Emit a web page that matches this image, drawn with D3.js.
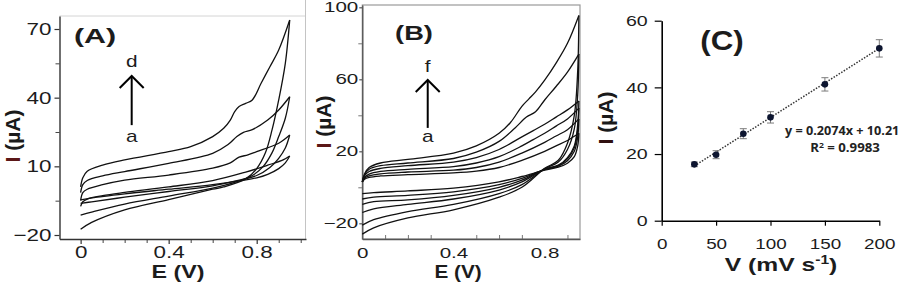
<!DOCTYPE html>
<html>
<head>
<meta charset="utf-8">
<script src="https://cdn.jsdelivr.net/npm/d3@7"></script>
<style>
  body { margin: 0; background: #fff; }
  svg { display: block; font-family: "Liberation Sans", Arial, sans-serif; }
</style>
</head>
<body>
<svg id="fig" width="899" height="283"></svg>
<script>
// ---- panel A : 4 voltammograms (a..d), [E (V), I (uA)] ----
const aFwd_a = [[0,-7.5],[0.01,-5.5],[0.03,-4.3],[0.1,-2.8],[0.2,-1.4],[0.4,1],[0.6,3.8],[0.75,7.5],[0.85,10.5],[0.92,12.8],[0.95,14.5]];
const aRev_a = [[0.95,14.5],[0.93,11.5],[0.9,9],[0.85,6.5],[0.8,5],[0.6,2],[0.4,0],[0.2,-2],[0.05,-3.8],[0,-4.7]];
const aFwd_b = [[0,-5],[0.01,-1.5],[0.03,0],[0.1,2],[0.2,4],[0.4,6.2],[0.6,9.2],[0.68,11.5],[0.72,14],[0.76,15],[0.8,16.4],[0.9,20.1],[0.95,23.7]];
const aRev_b = [[0.95,23.7],[0.93,18],[0.9,13.5],[0.86,9.5],[0.8,6],[0.7,3.5],[0.6,1.5],[0.4,-1],[0.2,-3.5],[0.05,-5.5],[0,-6.2]];
const aFwd_c = [[0,-1.5],[0.01,2],[0.03,3.8],[0.1,5.8],[0.2,7.7],[0.4,11.3],[0.6,15.7],[0.67,19.5],[0.71,23],[0.74,24.8],[0.78,26],[0.85,30.2],[0.9,34.6],[0.95,40.4]];
const aRev_c = [[0.95,40.4],[0.93,31],[0.9,23],[0.87,16],[0.83,10],[0.78,6],[0.7,3],[0.6,0.5],[0.4,-3],[0.2,-6.5],[0.05,-10],[0,-11.3]];
const aFwd_d = [[0,1],[0.01,5],[0.03,7.8],[0.1,10.5],[0.2,12.8],[0.4,16.4],[0.5,18.6],[0.6,23],[0.65,26.6],[0.68,30.2],[0.7,33.9],[0.72,36.1],[0.75,37.5],[0.78,39],[0.82,46.3],[0.86,53.5],[0.9,60.8],[0.95,73.9]];
const aRev_d = [[0.95,73.9],[0.93,55],[0.9,39],[0.87,26],[0.84,16],[0.8,9],[0.75,4.5],[0.65,1],[0.6,0],[0.4,-4.5],[0.2,-9],[0.05,-14.5],[0,-17.5]];

// ---- panel B : 6 voltammograms (a..f) ----
const bFwd_a = [[0,3],[0.01,4.5],[0.03,5.5],[0.08,6.3],[0.2,7],[0.4,8],[0.5,9],[0.6,11],[0.7,15],[0.8,20],[0.85,23],[0.9,26],[0.95,30]];
const bRev_a = [[0.95,30],[0.945,23],[0.93,17],[0.9,13.4],[0.86,11.2],[0.8,9.5],[0.7,6],[0.6,3],[0.4,-0.5],[0.2,-2],[0.05,-3],[0,-3.5]];
const bFwd_b = [[0,3],[0.01,5],[0.03,6.3],[0.08,7.5],[0.2,8.5],[0.4,9.5],[0.5,11],[0.6,14],[0.7,19],[0.8,25],[0.85,28.5],[0.9,32],[0.95,38]];
const bRev_b = [[0.95,38],[0.945,28],[0.93,20],[0.9,14.8],[0.86,11.7],[0.8,9.8],[0.7,5],[0.6,1.5],[0.4,-2.5],[0.2,-4.5],[0.05,-5.5],[0,-6.5]];
const bFwd_c = [[0,3],[0.01,5.5],[0.03,7.3],[0.08,8.8],[0.2,10],[0.4,11.5],[0.5,13.5],[0.6,17],[0.7,23],[0.75,26.5],[0.8,30],[0.85,34],[0.9,38],[0.95,44]];
const bRev_c = [[0.95,44],[0.945,32],[0.93,22],[0.9,15.8],[0.86,12],[0.8,10],[0.7,4],[0.6,0],[0.4,-4.5],[0.2,-7],[0.05,-8],[0,-9.5]];
const bFwd_d = [[0,3],[0.01,6.5],[0.03,8.8],[0.08,10.5],[0.2,12],[0.4,14],[0.5,16.5],[0.6,21],[0.7,28],[0.75,31.5],[0.8,35],[0.85,39],[0.9,43],[0.95,48]];
const bRev_d = [[0.95,48],[0.945,35],[0.93,23],[0.9,16.5],[0.86,12.3],[0.8,10.1],[0.7,3],[0.6,-1.5],[0.4,-6.5],[0.2,-9.5],[0.05,-12],[0,-14]];
const bFwd_e = [[0,3],[0.01,7],[0.03,10],[0.08,12],[0.2,13.5],[0.4,16],[0.5,19.5],[0.6,25.5],[0.67,33],[0.72,39],[0.76,42],[0.8,48.5],[0.85,56],[0.9,64],[0.95,74]];
const bRev_e = [[0.95,74],[0.945,51.5],[0.93,32.5],[0.9,21],[0.86,14],[0.8,10.3],[0.7,1.5],[0.6,-3.5],[0.4,-9.5],[0.2,-13.5],[0.05,-18],[0,-21]];
const bFwd_f = [[0,3],[0.01,7.5],[0.03,11],[0.08,13.5],[0.2,15.5],[0.4,19],[0.5,23],[0.6,30],[0.65,36],[0.7,45],[0.73,49],[0.76,53],[0.8,59.5],[0.85,69],[0.9,80],[0.95,95.5]];
const bRev_f = [[0.95,95.5],[0.945,65],[0.93,40],[0.9,24.5],[0.86,15],[0.8,10.5],[0.7,0],[0.6,-5.5],[0.4,-12.5],[0.2,-17],[0.05,-22.5],[0,-26]];

// ---- panel C : peak current vs scan rate ----
const scanRate = [30, 50, 75, 100, 150, 200];
const peakI = [16.9, 19.8, 26.1, 31.0, 40.9, 51.7];
const peakErr = [0.7, 1.2, 1.5, 1.7, 2.0, 2.6];
const fitSlope = 0.2074, fitIntercept = 10.21;

// tick values
const aTicksY = [70, 40, 10, -20], aMinorY = [55, 25, -5];
const aTicksX = [0, 0.4, 0.8], cvMinorX = [0.1, 0.2, 0.3, 0.5, 0.6, 0.7, 0.9, 1.0];
const bTicksY = [100, 60, 20, -20], bMinorY = [80, 40, 0];
const bTicksX = [0, 0.4, 0.8];
const cTicksY = [0, 20, 40, 60], cTicksX = [0, 50, 100, 150, 200];

const svg = d3.select("#fig");
svg.append("rect").attr("width", 899).attr("height", 283).attr("fill", "#fff");
const INK = "#1c1c1c";

function txt(g, x, y, s, o) {
  o = o || {};
  return g.append("text").attr("transform", `translate(${x},${y}) scale(${o.sx || 1},1)`)
    .attr("text-anchor", o.anchor || "middle").attr("font-size", o.size || 14)
    .attr("font-weight", o.bold ? "bold" : null).attr("fill", o.fill || INK)
    .attr("font-family", o.font || null).text(s);
}
function ylab(g, x, y, red) {
  const t = g.append("text").attr("transform", `translate(${x},${y}) rotate(-90)`)
    .attr("text-anchor", "middle").attr("font-size", 21).attr("font-weight", "bold");
  t.append("tspan").attr("fill", red).text("I");
  t.append("tspan").attr("fill", "#1a1a1a").text(" (µA)");
}
function styleAxis(a, size, sx, stroke, dx, base) {
  a.selectAll("path.domain").attr("stroke", stroke).attr("stroke-width", 1.4);
  a.selectAll(".tick line").attr("stroke", stroke).attr("stroke-width", 1.2);
  a.selectAll(".tick text").attr("font-size", size).attr("fill", INK)
    .attr("font-family", "Liberation Sans, Arial, sans-serif")
    .each(function () {
      const t = d3.select(this);
      if (dx != null) t.attr("x", 0).attr("transform", `translate(${dx},0) scale(${sx},1)`);
      else t.attr("dy", null).attr("y", base).attr("transform", `scale(${sx},1)`);
    });
}
const fmtE = (d) => (d === 0 ? "0" : d3.format(".1f")(d));
function cvLine(x, y) {
  return d3.line().x((d) => x(d[0])).y((d) => y(d[1])).curve(d3.curveCatmullRom.alpha(0.5));
}
function arrow(g, x, y, e, i0, i1) {
  const tx = x(e), t0 = y(i0), t1 = y(i1);
  g.append("line").attr("x1", tx).attr("x2", tx).attr("y1", t0).attr("y2", t1)
    .attr("stroke", "#000").attr("stroke-width", 2);
  g.append("path").attr("d", `M${tx - 12},${t1 + 12}L${tx},${t1}L${tx + 12},${t1 + 12}`)
    .attr("fill", "none").attr("stroke", "#000").attr("stroke-width", 2);
}

// ================= panel A =================
(function () {
  const g = svg.append("g");
  const x = d3.scaleLinear().domain([-0.096, 1.024]).range([59.5, 306]);
  const y = d3.scaleLinear().domain([-21.75, 75.68]).range([239, 16]);

  g.append("line").attr("x1", 59.5).attr("x2", 306).attr("y1", 16).attr("y2", 16).attr("stroke", "#d4d4d4");
  g.append("line").attr("x1", 305.5).attr("x2", 305.5).attr("y1", 0).attr("y2", 239).attr("stroke", "#c4c4c4");

  g.append("g").attr("transform", "translate(59.5,0)")
    .call(d3.axisLeft(y).tickValues(aMinorY).tickSize(4).tickFormat("").tickSizeOuter(0))
    .call((a) => a.selectAll("path.domain").remove()).selectAll("line").attr("stroke", "#444");
  g.append("g").attr("transform", "translate(0,239)")
    .call(d3.axisBottom(x).tickValues(cvMinorX).tickSize(4).tickFormat("").tickSizeOuter(0))
    .call((a) => a.selectAll("path.domain").remove()).selectAll("line").attr("stroke", "#444");
  const ay = g.append("g").attr("transform", "translate(59.5,0)")
    .call(d3.axisLeft(y).tickValues(aTicksY).tickSize(5).tickSizeOuter(0));
  styleAxis(ay, 17, 1.32, "#333", -8);
  const ax = g.append("g").attr("transform", "translate(0,239)")
    .call(d3.axisBottom(x).tickValues(aTicksX).tickSize(5).tickSizeOuter(0).tickFormat(fmtE));
  styleAxis(ax, 17, 1.32, "#333", null, 19.3);

  const line = cvLine(x, y);
  [aFwd_a, aRev_a, aFwd_b, aRev_b, aFwd_c, aRev_c, aFwd_d, aRev_d].forEach((d) => {
    g.append("path").attr("d", line(d)).attr("fill", "none").attr("stroke", "#111").attr("stroke-width", 1.3);
  });

  txt(g, 95, 43, "(A)", { size: 21, bold: true, sx: 1.45 });
  arrow(g, x, y, 0.232, 28, 49.5);
  txt(g, x(0.232), y(53.4), "d", { size: 16, sx: 1.3 });
  txt(g, x(0.232), y(20.6), "a", { size: 16, sx: 1.3 });
  txt(g, 178, 278, "E (V)", { size: 18.5, bold: true, sx: 1.26 });
  ylab(g, 20, 136, "#5b1717");
})();

// ================= panel B =================
(function () {
  const g = svg.append("g");
  const x = d3.scaleLinear().domain([0, 0.955]).range([362.3, 580]);
  const y = d3.scaleLinear().domain([-28.72, 101.28]).range([239, 5]);

  g.append("rect").attr("x", 362.3).attr("y", 5).attr("width", 580 - 362.3).attr("height", 234)
    .attr("fill", "none").attr("stroke", "#9a9a9a").attr("stroke-width", 1.2);

  g.append("g").attr("transform", "translate(362.3,0)")
    .call(d3.axisLeft(y).tickValues(bMinorY).tickSize(4).tickFormat("").tickSizeOuter(0))
    .call((a) => a.selectAll("path.domain").remove()).selectAll("line").attr("stroke", "#777");
  g.append("g").attr("transform", "translate(0,239)")
    .call(d3.axisBottom(x).tickValues(cvMinorX.filter((v) => v < 0.95)).tickSize(-4).tickFormat("").tickSizeOuter(0))
    .call((a) => a.selectAll("path.domain").remove()).selectAll("line").attr("stroke", "#777");
  const by = g.append("g").attr("transform", "translate(362.3,0)")
    .call(d3.axisLeft(y).tickValues(bTicksY).tickSize(3).tickSizeOuter(0));
  styleAxis(by, 14.5, 1.42, "#555", -4);
  const bx = g.append("g").attr("transform", "translate(0,239)")
    .call(d3.axisBottom(x).tickValues(bTicksX).tickSize(0).tickSizeOuter(0).tickFormat(fmtE));
  styleAxis(bx, 14.5, 1.42, "#555", null, 19.3);

  const line = cvLine(x, y);
  [bFwd_a, bRev_a, bFwd_b, bRev_b, bFwd_c, bRev_c, bFwd_d, bRev_d, bFwd_e, bRev_e, bFwd_f, bRev_f].forEach((d) => {
    g.append("path").attr("d", line(d)).attr("fill", "none").attr("stroke", "#111").attr("stroke-width", 1.3);
  });

  txt(g, 414, 40, "(B)", { size: 21, bold: true, sx: 1.3 });
  arrow(g, x, y, 0.287, 33, 59.6);
  txt(g, x(0.287), y(64), "f", { size: 16, sx: 1.3 });
  txt(g, x(0.287), y(25.2), "a", { size: 16, sx: 1.3 });
  txt(g, 458, 278, "E (V)", { size: 18.5, bold: true, sx: 1.12 });
  ylab(g, 331, 122, "#5b1717");
})();

// ================= panel C =================
(function () {
  const g = svg.append("g");
  const x = d3.scaleLinear().domain([0, 200]).range([661.7, 879.3]);
  const y = d3.scaleLinear().domain([0, 60]).range([220.7, 20.7]);

  const cy = g.append("g").attr("transform", "translate(661.7,0)")
    .call(d3.axisLeft(y).tickValues(cTicksY).tickSize(7).tickSizeOuter(0));
  styleAxis(cy, 14.5, 1.35, "#000", -14);
  const cx = g.append("g").attr("transform", "translate(0,220.7)")
    .call(d3.axisBottom(x).tickValues(cTicksX).tickSize(5).tickSizeOuter(0));
  styleAxis(cx, 14.5, 1.3, "#000", null, 28.6);
  cy.select("path.domain").attr("stroke-width", 1.6);
  cx.select("path.domain").attr("stroke-width", 1.6);

  // trendline from the fitted equation
  const xs = [d3.min(scanRate), d3.max(scanRate)];
  g.append("line").attr("x1", x(xs[0])).attr("x2", x(xs[1]))
    .attr("y1", y(fitSlope * xs[0] + fitIntercept)).attr("y2", y(fitSlope * xs[1] + fitIntercept))
    .attr("stroke", "#333").attr("stroke-width", 1.5).attr("stroke-dasharray", "1.5 1.5");

  const pts = scanRate.map((v, i) => ({ v, i: peakI[i], e: peakErr[i] }));
  const eb = g.selectAll("g.eb").data(pts).join("g").attr("class", "eb").attr("stroke", "#7a7a7a").attr("stroke-width", 1);
  eb.append("line").attr("x1", (d) => x(d.v)).attr("x2", (d) => x(d.v))
    .attr("y1", (d) => y(d.i - d.e)).attr("y2", (d) => y(d.i + d.e));
  eb.append("line").attr("x1", (d) => x(d.v) - 3.5).attr("x2", (d) => x(d.v) + 3.5)
    .attr("y1", (d) => y(d.i + d.e)).attr("y2", (d) => y(d.i + d.e));
  eb.append("line").attr("x1", (d) => x(d.v) - 3.5).attr("x2", (d) => x(d.v) + 3.5)
    .attr("y1", (d) => y(d.i - d.e)).attr("y2", (d) => y(d.i - d.e));
  g.selectAll("circle.pt").data(pts).join("circle").attr("class", "pt")
    .attr("cx", (d) => x(d.v)).attr("cy", (d) => y(d.i)).attr("r", 3.3).attr("fill", "#0d1530");

  txt(g, 722, 50, "(C)", { size: 28, bold: true, sx: 1.12 });
  txt(g, 785, 135, `y = ${fitSlope}x + ${fitIntercept}`, { size: 11.5, bold: true, anchor: "start", font: "Open Sans", fill: "#222", sx: 1.1 });
  const r2 = txt(g, 845, 152, "R", { size: 11.5, bold: true, font: "Open Sans", fill: "#222", sx: 1.15 });
  r2.append("tspan").attr("dy", -4).attr("font-size", 7.5).text("2");
  r2.append("tspan").attr("dy", 4).text(" = 0.9983");

  const vl = txt(g, 781, 271, "V (mV s", { size: 19, bold: true, sx: 1.3 });
  vl.append("tspan").attr("dy", -7).attr("font-size", 12).text("-1");
  vl.append("tspan").attr("dy", 7).text(")");
  ylab(g, 613, 118, "#301010");
})();
</script>
</body>
</html>
